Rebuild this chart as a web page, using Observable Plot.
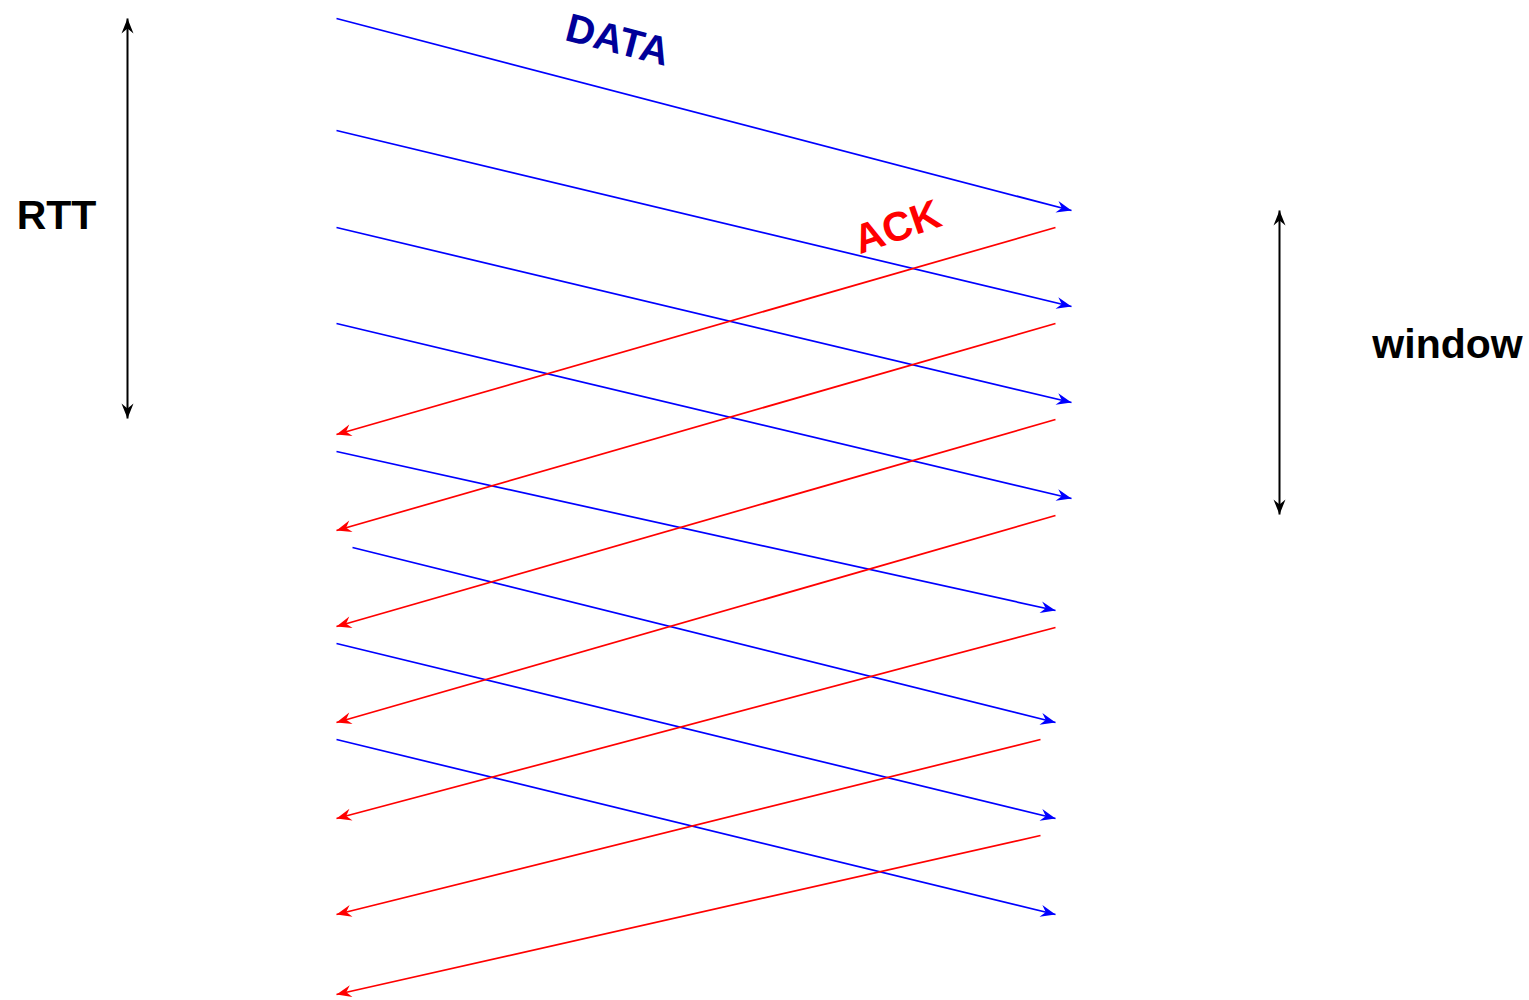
<!DOCTYPE html>
<html>
<head>
<meta charset="utf-8">
<script src="https://cdn.jsdelivr.net/npm/d3@7"></script>
<script src="https://cdn.jsdelivr.net/npm/@observablehq/plot@0.6"></script>
<style>
  html, body { margin: 0; padding: 0; background: #fff; }
  #chart svg { display: block; }
</style>
</head>
<body>
<div id="chart"></div>
<script>
// DATA segments: sender (left) -> receiver (right)
const dataX1 = [336, 336, 336, 336, 336, 352, 336, 336];
const dataY1 = [18, 130, 227, 323, 451, 547, 643, 739];
const dataX2 = [1071, 1071, 1071, 1071, 1055, 1055, 1055, 1055];
const dataY2 = [210, 306, 402, 498, 610, 722, 818, 914];

// ACK segments: receiver (right) -> sender (left)
const ackX1 = [1055, 1055, 1055, 1055, 1055, 1040, 1040];
const ackY1 = [227, 323, 419, 515, 627, 739, 835];
const ackX2 = [336, 336, 336, 336, 336, 336, 336];
const ackY2 = [434, 530, 626, 722, 818, 914, 994];

// Double-headed dimension arrows
const dimNames = ["RTT", "window"];
const dimX = [127, 1279];
const dimTop = [18, 210];
const dimBottom = [418, 514];

// Labels
const labelText = ["RTT", "window", "DATA", "ACK"];
const labelX = [56, 1447, 617, 897];
const labelY = [215, 344, 40, 227];
const labelColor = ["#000000", "#000000", "#000099", "#ff0000"];
const labelRotate = [0, 0, 14.6, -19];
const labelSize = [41, 41, 40, 41];

const segs = (x1, y1, x2, y2, color) =>
  x1.map((_, i) => ({x1: x1[i], y1: y1[i], x2: x2[i], y2: y2[i], color}));

const dataSegs = segs(dataX1, dataY1, dataX2, dataY2, "#0000ff");
const ackSegs = segs(ackX1, ackY1, ackX2, ackY2, "#ff0000");
const dimSegs = dimNames.map((n, i) => ({x1: dimX[i], y1: dimTop[i], x2: dimX[i], y2: dimBottom[i], color: "#000000"}));

const heads = [];
for (const s of [...dataSegs, ...ackSegs]) {
  const a = Math.atan2(s.x2 - s.x1, -(s.y2 - s.y1)) * 180 / Math.PI;
  heads.push({x: s.x2, y: s.y2, rotate: a, color: s.color});
}
for (const s of dimSegs) {
  heads.push({x: s.x1, y: s.y1, rotate: 0, color: s.color});
  heads.push({x: s.x2, y: s.y2, rotate: 180, color: s.color});
}

const labels = labelText.map((t, i) => ({text: t, x: labelX[i], y: labelY[i], color: labelColor[i], rotate: labelRotate[i], size: labelSize[i]}));

// notched "classic" arrowhead pointing up, tip at origin
const classicHead = {
  draw(context) {
    const L = 15, W = 6, N = 10;
    context.moveTo(0, 0);
    context.lineTo(W, L);
    context.lineTo(0, N);
    context.lineTo(-W, L);
    context.closePath();
  }
};

const chart = Plot.plot({
  width: 1529,
  height: 1000,
  margin: 0,
  style: {background: "#ffffff", fontFamily: "'Liberation Sans', Arial, Helvetica, sans-serif"},
  x: {domain: [0, 1529], range: [0, 1529], axis: null},
  y: {domain: [0, 1000], range: [0, 1000], axis: null},
  marks: [
    Plot.link([...dataSegs, ...ackSegs], {x1: "x1", y1: "y1", x2: "x2", y2: "y2", stroke: d => d.color, strokeWidth: 1.7}),
    Plot.link(dimSegs, {x1: "x1", y1: "y1", x2: "x2", y2: "y2", stroke: "color", strokeWidth: 2}),
    Plot.dot(heads, {x: "x", y: "y", rotate: "rotate", symbol: classicHead, fill: d => d.color, stroke: "none", r: 5}),
    ...labels.map(l => Plot.text([l], {x: "x", y: "y", text: "text", fill: l.color, rotate: l.rotate, fontSize: l.size, fontWeight: "bold", textAnchor: "middle", lineAnchor: "middle"}))
  ]
});
document.getElementById("chart").appendChild(chart);
</script>
</body>
</html>
